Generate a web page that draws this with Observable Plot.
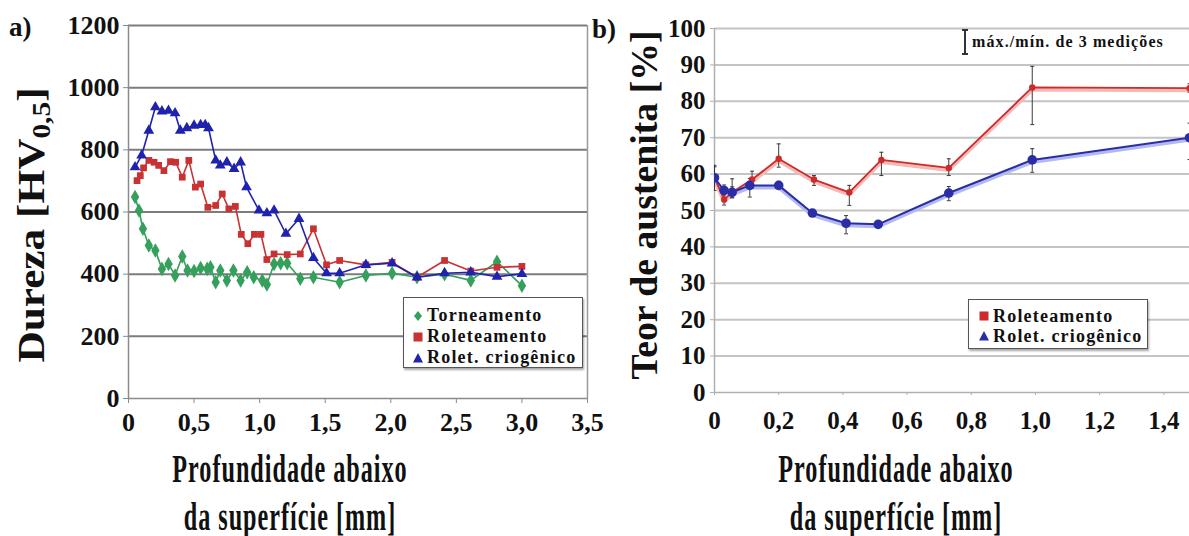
<!DOCTYPE html>
<html>
<head>
<meta charset="utf-8">
<script src="https://cdn.jsdelivr.net/npm/d3@7"></script>
<script src="https://cdn.jsdelivr.net/npm/@observablehq/plot@0.6"></script>
<style>
  html, body { margin: 0; padding: 0; background: #fff; overflow: hidden; }
  #page { position: relative; width: 1189px; height: 536px; font-family: "Liberation Serif", "Times New Roman", "DejaVu Serif", serif; font-weight: bold; color: #111; }
  .abs { position: absolute; white-space: nowrap; }
  .panel svg { overflow: visible; }
  .legend { position: absolute; border: 1px solid #555; background: #fff; box-shadow: 1px 2px 2px rgba(0,0,0,0.35); font-size: 18px; letter-spacing: 1.2px; box-sizing: border-box; }
  .legend .row { display: flex; align-items: center; }
  .legend svg { margin-right: 3px; flex: none; }
</style>
</head>
<body>
<div id="page"></div>
<script>
// ---------- (a) hardness profiles ----------
const torneamentoX = [0.05, 0.08, 0.11, 0.155, 0.205, 0.255, 0.305, 0.355, 0.41, 0.45, 0.5, 0.55, 0.6, 0.625, 0.665, 0.7, 0.75, 0.8, 0.855, 0.905, 0.955, 1.02, 1.055, 1.11, 1.16, 1.21, 1.31, 1.41, 1.61, 1.81, 2.01, 2.2, 2.41, 2.61, 2.81, 3.0];
const torneamentoHV = [648, 605, 546, 492, 476, 417, 433, 396, 457, 412, 410, 420, 417, 422, 374, 412, 380, 412, 380, 406, 390, 380, 367, 433, 435, 435, 385, 390, 374, 396, 403, 390, 400, 380, 440, 363];

const roleteamentoX = [0.065, 0.09, 0.115, 0.155, 0.195, 0.23, 0.27, 0.32, 0.36, 0.41, 0.46, 0.51, 0.55, 0.605, 0.665, 0.715, 0.765, 0.815, 0.86, 0.91, 0.96, 1.01, 1.055, 1.11, 1.21, 1.31, 1.41, 1.51, 1.61, 1.81, 2.01, 2.2, 2.41, 2.61, 2.81, 3.0];
const roleteamentoHV = [701, 717, 742, 766, 760, 750, 733, 762, 760, 712, 766, 680, 690, 615, 621, 658, 610, 618, 528, 498, 528, 528, 447, 465, 463, 465, 546, 430, 444, 430, 438, 390, 444, 410, 422, 425];

const criogenicoX = [0.05, 0.1, 0.155, 0.205, 0.255, 0.305, 0.355, 0.395, 0.445, 0.5, 0.55, 0.585, 0.61, 0.665, 0.7, 0.75, 0.805, 0.855, 0.9, 0.995, 1.055, 1.11, 1.2, 1.3, 1.41, 1.51, 1.61, 1.81, 2.01, 2.2, 2.41, 2.61, 2.81, 3.0];
const criogenicoHV = [744, 782, 862, 937, 924, 926, 918, 862, 870, 878, 880, 880, 870, 766, 750, 760, 739, 760, 680, 605, 596, 605, 530, 578, 452, 403, 403, 430, 435, 390, 403, 406, 392, 401];

const hardnessXTicks = [0, 0.5, 1.0, 1.5, 2.0, 2.5, 3.0, 3.5];
const hardnessYTicks = [0, 200, 400, 600, 800, 1000, 1200];

// ---------- (b) retained austenite, mean with max/min of 3 measurements ----------
const roletX   = [0, 0.03, 0.055, 0.117, 0.2, 0.31, 0.42, 0.52, 0.73, 0.99, 1.48];
const roletPct = [59, 53, 55, 58.5, 64.2, 58.5, 55, 63.9, 61.7, 83.8, 83.6];
const roletMin = [58, 51.5, 53.5, 56.2, 61.9, 56.9, 51.4, 59.6, 59.6, 73.6, 82.5];
const roletMax = [62, 55, 58.7, 60.8, 68.3, 59.6, 56.9, 66, 64.2, 89.6, 84.8];

const crioX   = [0, 0.03, 0.055, 0.11, 0.2, 0.305, 0.41, 0.51, 0.73, 0.99, 1.48];
const crioPct = [59, 55.5, 55, 56.9, 56.9, 49.3, 46.5, 46.2, 54.8, 63.9, 70];
const crioMin = [55.5, 54, 53.5, 53.7, 56, 48.5, 43.6, 45.5, 52.7, 60.5, 64];
const crioMax = [62.4, 57, 56.5, 58.8, 58, 50, 48.6, 47, 56.6, 67, 74];

const austXTicks = [0, 0.2, 0.4, 0.6, 0.8, 1.0, 1.2, 1.4];
const austYTicks = [0, 10, 20, 30, 40, 50, 60, 70, 80, 90, 100];

// ---------- helpers ----------
const comma = d => d === 0 ? "0" : d.toFixed(1).replace(".", ",");
const plain = d => String(d);
const rows = (xs, ys, extra = {}) => xs.map((x, i) => Object.fromEntries([["x", x], ["y", ys[i]], ...Object.entries(extra).map(([k, v]) => [k, v[i]])]));
// short horizontal stroke used as error-bar cap
const capSymbol = { draw(ctx, size) { const r = Math.sqrt(size / Math.PI); ctx.moveTo(-r, 0); ctx.lineTo(r, 0); } };

const GREEN = "#35a05c", RED = "#c93232", BLUE = "#1f22ad";
const RED_B = "#cf2a2a", BLUE_B = "#2a2ea6";
const SERIF = "'Liberation Serif', 'Times New Roman', 'DejaVu Serif', serif";

const page = document.getElementById("page");
const baseStyle = { fontFamily: SERIF, fontSize: "25px", fontWeight: "bold", color: "#111", background: "transparent" };

// ---------- chart (a) ----------
const torn = rows(torneamentoX, torneamentoHV);
const role = rows(roleteamentoX, roleteamentoHV);
const crio = rows(criogenicoX, criogenicoHV);

const chartA = Plot.plot({
  width: 600, height: 440,
  marginLeft: 128, marginTop: 25, marginRight: 13, marginBottom: 42,
  x: { domain: [0, 3.5] },
  y: { domain: [0, 1200] },
  style: Object.assign({}, baseStyle, { fontSize: "26px" }),
  marks: [
    Plot.ruleY(hardnessYTicks.filter(d => d > 0), { stroke: "#7d7d7d", strokeWidth: 2 }),
    Plot.ruleX([3.5], { stroke: "#9a9a9a", strokeWidth: 1.5 }),
    Plot.ruleX([0], { stroke: "#8a8a8a", strokeWidth: 1.5 }),
    Plot.ruleY([0], { stroke: "#8a8a8a", strokeWidth: 1.5 }),
    Plot.axisY({ ticks: hardnessYTicks, tickFormat: plain, tickSize: 5, tickPadding: 4, label: null, stroke: "#8a8a8a" }),
    Plot.axisX({ ticks: hardnessXTicks, tickFormat: comma, tickSize: 5, tickPadding: 9, label: null, stroke: "#8a8a8a" }),
    Plot.line(torn, { x: "x", y: "y", stroke: GREEN, strokeWidth: 1.6 }),
    Plot.dot(torn, { x: "x", y: "y", symbol: "diamond", r: 4.4, fill: GREEN }),
    Plot.line(role, { x: "x", y: "y", stroke: RED, strokeWidth: 1.6 }),
    Plot.dot(role, { x: "x", y: "y", symbol: "square", r: 3.8, fill: RED }),
    Plot.line(crio, { x: "x", y: "y", stroke: BLUE, strokeWidth: 1.6 }),
    Plot.dot(crio, { x: "x", y: "y", symbol: "triangle", r: 4, fill: BLUE })
  ]
});
const wrapA = document.createElement("div");
wrapA.className = "abs panel";
wrapA.style.left = "0px"; wrapA.style.top = "0px";
wrapA.appendChild(chartA);
page.appendChild(wrapA);

// ---------- chart (b) ----------
const rol = rows(roletX, roletPct, { lo: roletMin, hi: roletMax });
const cri = rows(crioX, crioPct, { lo: crioMin, hi: crioMax });

const chartB = Plot.plot({
  width: 589, height: 440,
  marginLeft: 114, marginTop: 28, marginRight: 0, marginBottom: 48,
  x: { domain: [0, 1.48] },
  y: { domain: [0, 100] },
  style: baseStyle,
  marks: [
    Plot.ruleY(austYTicks.filter(d => d > 0), { stroke: "#c4c4c4", strokeWidth: 2 }),
    Plot.ruleX([0], { stroke: "#b0b0b0", strokeWidth: 1.5 }),
    Plot.ruleY([0], { stroke: "#b0b0b0", strokeWidth: 1.5 }),
    Plot.axisY({ ticks: austYTicks, tickFormat: plain, tickSize: 4, tickPadding: 5, label: null, stroke: "#b0b0b0" }),
    Plot.axisX({ ticks: austXTicks, tickFormat: comma, tickSize: 3, tickPadding: 16, label: null, stroke: "#b0b0b0" }),
    // soft shadow under each series line
    Plot.line(rol, { x: "x", y: "y", stroke: "#f2b9b9", strokeWidth: 4, dy: 2, clip: true }),
    Plot.line(cri, { x: "x", y: "y", stroke: "#b3b8ee", strokeWidth: 4, dy: 2, clip: true }),
    // max/min whiskers
    Plot.ruleX(rol, { x: "x", y1: "lo", y2: "hi", stroke: "#3a3a3a", strokeWidth: 1, clip: true }),
    Plot.dot(rol, { x: "x", y: "lo", symbol: capSymbol, r: 2, stroke: "#3a3a3a", strokeWidth: 1, clip: true }),
    Plot.dot(rol, { x: "x", y: "hi", symbol: capSymbol, r: 2, stroke: "#3a3a3a", strokeWidth: 1, clip: true }),
    Plot.ruleX(cri, { x: "x", y1: "lo", y2: "hi", stroke: "#3a3a3a", strokeWidth: 1, clip: true }),
    Plot.dot(cri, { x: "x", y: "lo", symbol: capSymbol, r: 2, stroke: "#3a3a3a", strokeWidth: 1, clip: true }),
    Plot.dot(cri, { x: "x", y: "hi", symbol: capSymbol, r: 2, stroke: "#3a3a3a", strokeWidth: 1, clip: true }),
    Plot.line(rol, { x: "x", y: "y", stroke: RED_B, strokeWidth: 1.8, clip: true }),
    Plot.dot(rol, { x: "x", y: "y", r: 3.2, fill: RED_B, clip: true }),
    Plot.line(cri, { x: "x", y: "y", stroke: BLUE_B, strokeWidth: 2, clip: true }),
    Plot.dot(cri, { x: "x", y: "y", r: 4.8, fill: BLUE_B, clip: true })
  ]
});
const wrapB = document.createElement("div");
wrapB.className = "abs panel";
wrapB.style.left = "600px"; wrapB.style.top = "0px";
wrapB.appendChild(chartB);
page.appendChild(wrapB);

// ---------- text, legends ----------
function addText(html, css) {
  const el = document.createElement("div");
  el.className = "abs";
  el.innerHTML = html;
  Object.assign(el.style, css);
  page.appendChild(el);
  return el;
}
const sym = {
  diamond: c => `<svg width="12" height="12" viewBox="-6 -6 12 12"><path d="M0,-5L4,0L0,5L-4,0Z" fill="${c}"/></svg>`,
  square: c => `<svg width="12" height="12" viewBox="-6 -6 12 12"><rect x="-4.5" y="-4.5" width="9" height="9" fill="${c}"/></svg>`,
  triangle: c => `<svg width="12" height="12" viewBox="-6 -6 12 12"><path d="M0,-5L5,4.5L-5,4.5Z" fill="${c}"/></svg>`
};

// panel tags
addText("a)", { left: "9px", top: "12px", fontSize: "27px" });
addText("b)", { left: "592px", top: "14px", fontSize: "27px" });

// y titles
addText("Dureza [HV<sub style='font-size:0.68em;vertical-align:-0.25em'>0,5</sub>]", {
  left: "33px", top: "225px", fontSize: "37px", transform: "translate(-50%, -50%) rotate(-90deg) scaleX(1.17)"
});
addText("Teor de austenita [%]", {
  left: "644px", top: "205px", fontSize: "37px", transform: "translate(-50%, -50%) rotate(-90deg) scaleX(1.02)"
});

// x titles
const xTitleCss = { fontSize: "39px", textAlign: "center", lineHeight: "48px", letterSpacing: "1.6px" };
addText("Profundidade abaixo<br>da superfície [mm]", Object.assign({ left: "290px", top: "445px", transform: "translateX(-50%) scaleX(0.62)" }, xTitleCss));
addText("Profundidade abaixo<br>da superfície [mm]", Object.assign({ left: "896px", top: "445px", transform: "translateX(-50%) scaleX(0.62)" }, xTitleCss));

// legend (a)
const legA = document.createElement("div");
legA.className = "legend";
Object.assign(legA.style, { left: "403px", top: "297px", width: "180px", height: "71px", padding: "7px 0 0 8px" });
legA.innerHTML = [
  [sym.diamond(GREEN), "Torneamento"],
  [sym.square(RED), "Roleteamento"],
  [sym.triangle(BLUE), "Rolet. criogênico"]
].map(([s, t]) => `<div class="row" style="height:21px">${s}<span>${t}</span></div>`).join("");
page.appendChild(legA);

// legend (b)
const legB = document.createElement("div");
legB.className = "legend";
Object.assign(legB.style, { left: "968px", top: "299px", width: "180px", height: "50px", padding: "6px 0 0 9px" });
legB.innerHTML = [
  [sym.square(RED_B), "Roleteamento"],
  [sym.triangle(BLUE_B), "Rolet. criogênico"]
].map(([s, t]) => `<div class="row" style="height:20px">${s}<span>${t}</span></div>`).join("");
page.appendChild(legB);

// whisker key
addText(`<svg width="8" height="26" style="vertical-align:middle;margin-right:3px"><path d="M1,1H7M4,1V25M1,25H7" stroke="#333" stroke-width="2" fill="none"/></svg><span style="vertical-align:middle">máx./mín. de 3 medições</span>`, {
  left: "961px", top: "29px", fontSize: "16px", letterSpacing: "1.1px"
});
</script>
</body>
</html>
